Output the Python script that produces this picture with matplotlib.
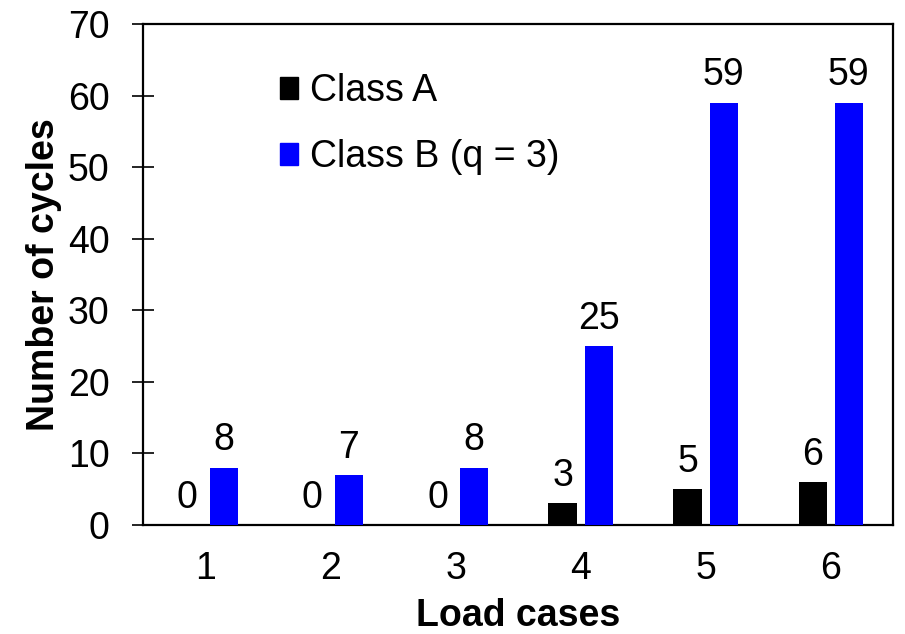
import numpy as np
import matplotlib.pyplot as plt
from matplotlib.patches import Patch

plt.rcParams['font.family'] = ['Liberation Sans', 'DejaVu Sans']

# load cases and cycle counts for each class
cases = ['1', '2', '3', '4', '5', '6']
class_a = [0, 0, 0, 3, 5, 6]
class_b = [8, 7, 8, 25, 59, 59]

x = np.arange(1, len(cases) + 1)
w = 0.225
off = 0.145
fs = 27

fig = plt.figure(figsize=(9.05, 6.34), dpi=100)
ax = fig.add_axes([0.158, 0.172, 0.829, 0.790])

ax.bar(x - off, class_a, w, color='black', zorder=3)
ax.bar(x + off, class_b, w, color='#0000ff', zorder=3)

# value labels above each bar
for xi, a, b in zip(x, class_a, class_b):
    ax.annotate(str(a), (xi - off, a), xytext=(0, 12.5), textcoords='offset points',
                ha='center', va='baseline', fontsize=fs)
    ax.annotate(str(b), (xi + off, b), xytext=(0, 12.5), textcoords='offset points',
                ha='center', va='baseline', fontsize=fs)

ax.set_xlim(0.5, 6.5)
ax.set_ylim(0, 70)
ax.set_yticks(range(0, 71, 10))
ax.set_xticks(x)
ax.set_xticklabels(cases)
ax.tick_params(axis='y', direction='inout', length=16, width=1.2, labelsize=fs, pad=16)
ax.tick_params(axis='x', length=0, labelsize=fs, pad=19)
for s in ax.spines.values():
    s.set_linewidth(1.6)

ax.set_xlabel('Load cases', fontsize=fs, fontweight='bold', labelpad=8)
ax.set_ylabel('Number of cycles', fontsize=fs, fontweight='bold', labelpad=4)

handles = [Patch(color='black'), Patch(color='#0000ff')]
ax.legend(handles, ['Class A', 'Class B (q = 3)'], loc='upper left',
          bbox_to_anchor=(0.138, 0.97), frameon=False, fontsize=fs,
          handlelength=0.48, handleheight=0.53, handletextpad=0.3, labelspacing=0.8)

fig.savefig('out.png', dpi=100)
